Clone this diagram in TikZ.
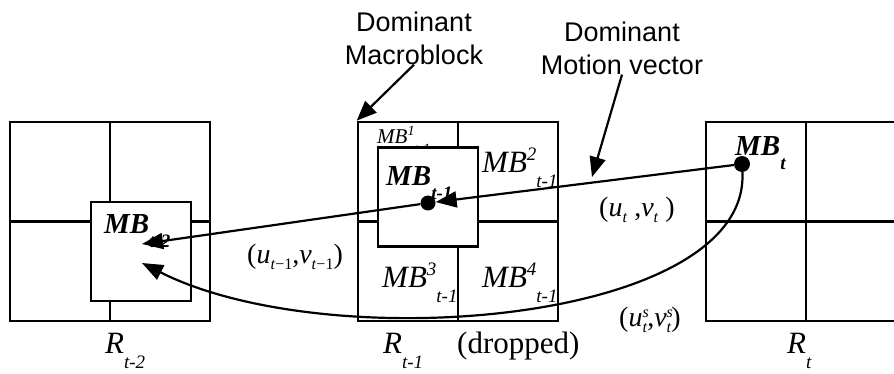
\documentclass[tikz,border=0pt]{standalone}
\usepackage{fontspec}
\setmainfont{Liberation Serif}
\newfontfamily\callfont{Liberation Sans}
\usetikzlibrary{arrows.meta,positioning,calc}
\definecolor{ink}{HTML}{000000}
% lowered subscript / raised superscript in text mode
\newcommand{\lsub}[2][19]{\raisebox{-0.5em}{\fontsize{#1}{#1}\selectfont #2}}
\newcommand{\hsup}[2][19]{\raisebox{0.36em}{\fontsize{#1}{#1}\selectfont #2}}
% indices for the vector labels sit closer to the baseline
\newcommand{\usub}[1]{\raisebox{-0.2em}{\fontsize{16}{16}\selectfont #1}}
\newcommand{\usup}[1]{\raisebox{0.32em}{\fontsize{16}{16}\selectfont #1}}
\newcommand{\supsub}[2]{\rlap{\usup{#1}}\usub{#2}}
\tikzset{
  frame/.style={draw=ink,line width=2.6pt,minimum width=200pt,minimum height=199pt,inner sep=0pt},
  mbbox/.style={draw=ink,fill=white,line width=2.6pt,minimum width=100pt,minimum height=99pt,inner sep=0pt},
  gridline/.style={ink,line width=2.6pt},
  blob/.style={circle,fill=ink,inner sep=0pt,minimum size=16pt},
  mv/.style={ink,line width=2.2pt,-{Triangle[length=21pt,width=16pt]}},
  ptr/.style={ink,line width=2.2pt,-{Triangle[length=20pt,width=16pt]}},
  call/.style={font=\callfont\fontsize{27}{33}\selectfont,align=center,inner sep=0pt},
  mb/.style={font=\fontsize{31}{31}\selectfont\itshape,inner sep=0pt,anchor=base west},
  mbb/.style={mb,font=\fontsize{29}{29}\selectfont\bfseries\itshape},
  mbs/.style={mb,font=\fontsize{21}{21}\selectfont\itshape},
  uv/.style={font=\fontsize{28}{28}\selectfont,inner sep=0pt},
  rlbl/.style={font=\fontsize{31}{31}\selectfont,inner sep=0pt,anchor=base west},
}
\begin{document}
\begin{tikzpicture}[x=1pt,y=1pt]
  \useasboundingbox (0,0) rectangle (894,373);
  % the three reference frames
  \node[frame] (Rl) at (110,151.5) {};
  \node[frame] (Rm) at (458,151.5) {};
  \node[frame] (Rr) at (806,151.5) {};
  \foreach \f in {Rl,Rm,Rr}{
    \draw[gridline] (\f.north) -- (\f.south);
    \draw[gridline] (\f.west) -- (\f.east);
  }
  \node[mbs] (mbOne) at (377,230) {MB\hsup[14]{1}\lsub[14]{t-1}};
  % matched macroblocks
  \node[mbbox] (boxA) at (141,121.5) {};
  \node[mbbox] (boxB) at (428,176) {};
  \node[mbb] (mbA) at (104,140) {MB\lsub[19]{t-2}};
  \node[mbb] (mbB) at (386,188) {MB\lsub[19]{t-1}};
  \node[mbb] (mbC) at (735,218) {MB\lsub[19]{t}};
  \node[mb] (mbTwo) at (482,201) {MB\hsup{2}\lsub{t-1}};
  \node[mb] (mbThree) at (382,86) {MB\hsup{3}\lsub{t-1}};
  \node[mb] (mbFour) at (482,86) {MB\hsup{4}\lsub{t-1}};
  % frame names
  \node[rlbl] (nl) at (105,20) {\textit{R}\lsub{\textit{t-2}}};
  \node[rlbl] (nm) at (383,20) {\textit{R}\lsub{\textit{t-1}}\hspace{34pt}(dropped)};
  \node[rlbl] (nr) at (787,20) {\textit{R}\lsub{\textit{t}}};
  % vector labels
  \node[uv] (uvA) at (295,116) {(\textit{u}\usub{\textit{t}−1},\textit{v}\usub{\textit{t}−1})};
  \node[uv] (uvB) at (637,163) {(\textit{u}\usub{\textit{t}} ,\textit{v}\usub{\textit{t}} )};
  \node[uv] (uvC) at (650,53) {(\textit{u}\supsub{\textit{s}}{\textit{t}},\textit{v}\supsub{\textit{s}}{\textit{t}})};
  % motion vectors
  \node[blob] (dotT) at (742,209) {};
  \node[blob,minimum size=15pt] (dotM) at (428,170) {};
  \coordinate (tipA) at (142,129);
  \coordinate (tipB) at (142,110);
  \coordinate (mvTip) at (592,196);
  \draw[mv] (dotT) -- (dotM);
  \draw[mv] (dotM) -- (tipA);
  \draw[mv] (dotT) .. controls (750,50) and (330,15) .. (tipB);
  % callouts
  \node[call] (lblMB) at (414,335) {Dominant\\Macroblock};
  \node[call] (lblMV) at (622,325) {Dominant\\Motion vector};
  \draw[ptr] (lblMB.south) -- (Rm.north west);
  \draw[ptr] (lblMV.south) -- (mvTip);
\end{tikzpicture}
\end{document}
